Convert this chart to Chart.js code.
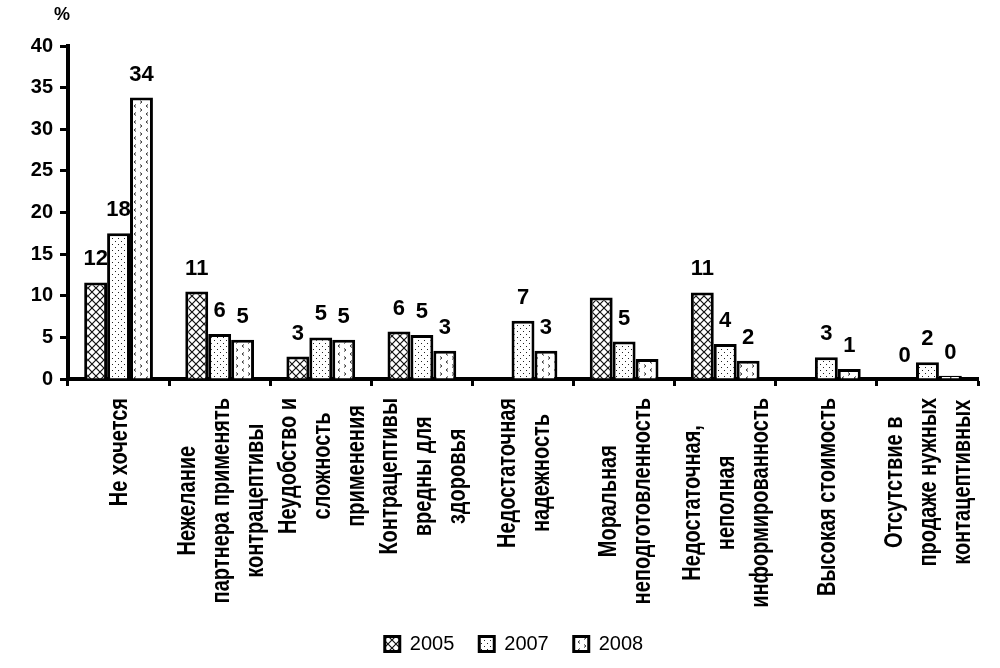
<!DOCTYPE html>
<html>
<head>
<meta charset="utf-8">
<script src="https://cdn.jsdelivr.net/npm/chart.js@4.4.0/dist/chart.umd.min.js"></script>
<style>
  html, body { margin: 0; padding: 0; background: #fff; }
  #wrap { width: 1000px; height: 668px; }
</style>
</head>
<body>
<div id="wrap"><canvas id="c" width="1000" height="668"></canvas></div>
<script>
// ---- data ----
const categories = [
  ['Не хочется'],
  ['Нежелание', 'партнера применять', 'контрацептивы'],
  ['Неудобство и', 'сложность', 'применения'],
  ['Контрацептивы', 'вредны для', 'здоровья'],
  ['Недостаточная', 'надежность'],
  ['Моральная', 'неподготовленность'],
  ['Недостаточная,', 'неполная', 'информированность'],
  ['Высокая стоимость'],
  ['Отсутствие в', 'продаже нужных', 'контацептивных']
];
const seriesNames = ['2005', '2007', '2008'];
const values2005 = [11.6, 10.5, 2.7, 5.7, 0, 9.8, 10.4, 0, 0];
const values2007 = [17.5, 5.4, 5.0, 5.3, 7.0, 4.5, 4.2, 2.6, 2.0];
const values2008 = [33.8, 4.7, 4.7, 3.4, 3.4, 2.4, 2.2, 1.2, 0.4];
const labels2005 = ['12', '11', '3', '6', '', '', '11', '', '0'];
const labels2007 = ['18', '6', '5', '5', '7', '5', '4', '3', '2'];
const labels2008 = ['34', '5', '5', '3', '3', '', '2', '1', '0'];
const yTicks = { min: 0, max: 40, step: 5 };
const yUnit = '%';

// ---- patterns ----
function crossPattern() {
  const c = document.createElement('canvas'); c.width = 8; c.height = 8;
  const g = c.getContext('2d');
  g.fillStyle = '#fff'; g.fillRect(0, 0, 8, 8);
  g.strokeStyle = '#111'; g.lineWidth = 1.2;
  g.beginPath(); g.moveTo(0, 0); g.lineTo(8, 8); g.moveTo(8, 0); g.lineTo(0, 8); g.stroke();
  return g.createPattern(c, 'repeat');
}
function dotPattern() {
  const c = document.createElement('canvas'); c.width = 6; c.height = 6;
  const g = c.getContext('2d');
  g.fillStyle = '#fff'; g.fillRect(0, 0, 6, 6);
  g.fillStyle = '#222';
  g.fillRect(1, 1, 1, 1); g.fillRect(4, 4, 1, 1);
  return g.createPattern(c, 'repeat');
}
function chevronPattern() {
  const c = document.createElement('canvas'); c.width = 12; c.height = 8;
  const g = c.getContext('2d');
  g.fillStyle = '#fff'; g.fillRect(0, 0, 12, 8);
  g.strokeStyle = '#333'; g.lineWidth = 1;
  g.beginPath();
  g.moveTo(4, 0.5); g.lineTo(2, 2); g.lineTo(4, 3.5);
  g.moveTo(8, 4.5); g.lineTo(10, 6); g.lineTo(8, 7.5);
  g.stroke();
  return g.createPattern(c, 'repeat');
}

const FONT = '"Liberation Sans", Arial, sans-serif';
const valueLabels = [labels2005, labels2007, labels2008];
const NARROW_SCALE = 0.8;

const textPlugin = {
  id: 'textPlugin',
  afterLayout(chart) {
    // shift the centred legend row slightly right, as in the original
    if (chart.legend) { chart.legend.left += 50; }
  },
  afterDatasetsDraw(chart) {
    const ctx = chart.ctx;
    ctx.save();
    ctx.font = 'bold 22px ' + FONT;
    ctx.fillStyle = '#000';
    ctx.textAlign = 'center';
    ctx.textBaseline = 'alphabetic';
    chart.data.datasets.forEach((ds, di) => {
      const meta = chart.getDatasetMeta(di);
      meta.data.forEach((el, i) => {
        const t = valueLabels[di][i];
        if (t) ctx.fillText(t, el.x, el.y - 17);
      });
    });
    ctx.restore();
  },
  afterDraw(chart) {
    const ctx = chart.ctx;
    const xs = chart.scales.x, ys = chart.scales.y;
    const area = chart.chartArea;
    ctx.save();
    ctx.fillStyle = '#000';
    ctx.font = 'bold 18px ' + FONT;
    ctx.textAlign = 'center';
    ctx.textBaseline = 'middle';
    ctx.fillText(yUnit, ys.right - 6, area.top - 31);

    ctx.font = 'bold 25px ' + FONT;
    categories.forEach((lines, i) => {
      const cx = xs.getPixelForValue(i) + 2;
      const maxW = Math.max(...lines.map(l => ctx.measureText(l).width)) * NARROW_SCALE;
      const top = area.bottom + 19;
      const n = lines.length;
      lines.forEach((line, j) => {
        const lx = cx + (j - (n - 1) / 2) * 34;
        ctx.save();
        ctx.translate(lx, top + maxW / 2);
        ctx.rotate(-Math.PI / 2);
        ctx.scale(NARROW_SCALE, 1);
        ctx.textAlign = 'center';
        ctx.textBaseline = 'middle';
        ctx.fillText(line, 0, 0);
        ctx.restore();
      });
    });
    ctx.restore();
  }
};

const common = { borderColor: '#000', borderWidth: 3, categoryPercentage: 0.68, barPercentage: 1.0 };

new Chart(document.getElementById('c'), {
  type: 'bar',
  data: {
    labels: categories.map(l => l.join(' ')),
    datasets: [
      Object.assign({ label: seriesNames[0], data: values2005, backgroundColor: crossPattern() }, common),
      Object.assign({ label: seriesNames[1], data: values2007, backgroundColor: dotPattern() }, common),
      Object.assign({ label: seriesNames[2], data: values2008, backgroundColor: chevronPattern() }, common)
    ]
  },
  options: {
    responsive: false,
    animation: false,
    devicePixelRatio: 1,
    layout: { padding: { top: 46, right: 22, bottom: 4, left: 0 } },
    plugins: {
      tooltip: { enabled: false },
      legend: {
        position: 'bottom',
        labels: {
          color: '#000',
          font: { family: FONT, size: 20 },
          boxWidth: 15,
          boxHeight: 15,
          padding: 25
        }
      }
    },
    scales: {
      x: {
        grid: { display: true, drawOnChartArea: false, drawTicks: true, tickLength: 7, tickWidth: 3, tickColor: '#000', offset: true },
        border: { display: true, color: '#000', width: 4 },
        ticks: { display: false },
        afterFit(s) { s.height = 230; }
      },
      y: {
        min: yTicks.min, max: yTicks.max,
        grid: { display: true, drawOnChartArea: false, drawTicks: true, tickLength: 8, tickWidth: 3, tickColor: '#000' },
        border: { display: true, color: '#000', width: 4 },
        ticks: { stepSize: yTicks.step, color: '#000', padding: 7, font: { family: FONT, size: 20, weight: 'bold' } },
        afterFit(s) { s.width = 68; }
      }
    }
  },
  plugins: [textPlugin]
});
</script>
</body>
</html>
